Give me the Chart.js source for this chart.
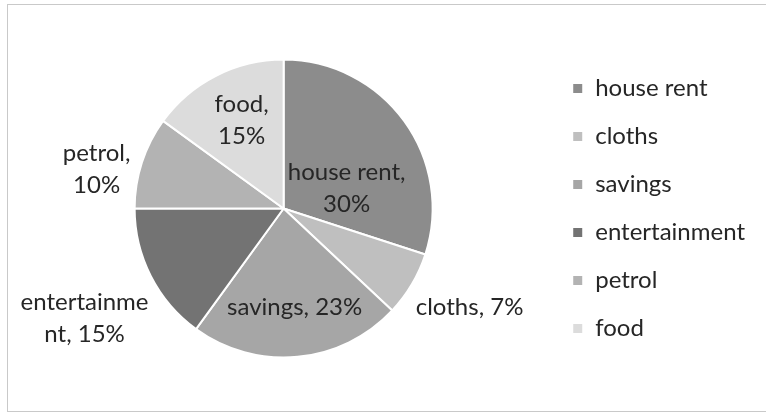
<!DOCTYPE html>
<html>
<head>
<meta charset="utf-8">
<script src="https://cdn.jsdelivr.net/npm/chart.js@4"></script>
<style>
  html, body { margin: 0; padding: 0; background: #ffffff; }
  #wrap { position: relative; width: 766px; height: 414px; }
  #frame { position: absolute; left: 7px; top: 4px; width: 770px; height: 408px; border: 1px solid #c9c9c9; box-sizing: border-box; }
  canvas { position: absolute; left: 0; top: 0; }
</style>
</head>
<body>
<div id="wrap">
  <div id="frame"></div>
  <canvas id="c" width="766" height="414"></canvas>
</div>
<script>
const categories = ['house rent', 'cloths', 'savings', 'entertainment', 'petrol', 'food'];
const values = [30, 7, 23, 15, 10, 15];
const labelLines = [
  ['house rent,', '30%'],
  ['cloths, 7%'],
  ['savings, 23%'],
  ['entertainme', 'nt, 15%'],
  ['petrol,', '10%'],
  ['food,', '15%']
];
const colors = ['#8c8c8c', '#bfbfbf', '#a6a6a6', '#737373', '#b3b3b3', '#dcdcdc'];

// label anchor offsets, in units of the pie radius, relative to the pie centre
const labelOffsets = [
  [0.423, -0.134],
  [1.248, 0.664],
  [0.074, 0.664],
  [-1.336, 0.738],
  [-1.255, -0.262],
  [-0.282, -0.591]
];

const FONT = 'Lato, "Open Sans", sans-serif';
const FSIZE = 24;

const sliceLabels = {
  id: 'sliceLabels',
  afterDatasetsDraw(chart) {
    const ctx = chart.ctx;
    const meta = chart.getDatasetMeta(0);
    ctx.save();
    ctx.font = FSIZE + 'px ' + FONT;
    ctx.fillStyle = '#262626';
    ctx.textAlign = 'center';
    ctx.textBaseline = 'middle';
    const lineH = 32;
    meta.data.forEach((arc, i) => {
      const r = arc.outerRadius;
      const cx = arc.x + labelOffsets[i][0] * r;
      const cy = arc.y + labelOffsets[i][1] * r;
      const lines = labelLines[i];
      const startY = cy - (lines.length - 1) * lineH / 2;
      lines.forEach((t, k) => ctx.fillText(t, cx, startY + k * lineH));
    });
    ctx.restore();
  }
};

new Chart(document.getElementById('c'), {
  type: 'pie',
  data: {
    labels: categories,
    datasets: [{
      data: values,
      backgroundColor: colors,
      borderColor: '#ffffff',
      borderWidth: 2,
      radius: 149
    }]
  },
  options: {
    responsive: false,
    animation: false,
    layout: { padding: { left: 19, right: 11, top: 10, bottom: 7 } },
    plugins: {
      tooltip: { enabled: false },
      legend: {
        position: 'right',
        labels: {
          boxWidth: 11,
          boxHeight: 11,
          padding: 24,
          color: '#262626',
          font: { family: FONT, size: FSIZE }
        }
      }
    }
  },
  plugins: [sliceLabels]
});
</script>
</body>
</html>
